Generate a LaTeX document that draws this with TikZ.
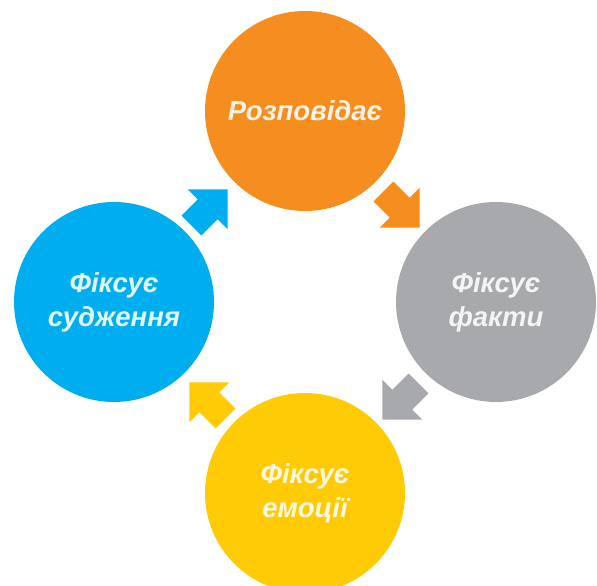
\documentclass[tikz,border=0pt]{standalone}
\usepackage{fontspec}
\setmainfont{Liberation Sans}
\usetikzlibrary{calc}
\definecolor{orangeC}{HTML}{F68E1F}
\definecolor{grayC}{HTML}{A7A9AC}
\definecolor{yellowC}{HTML}{FFCB05}
\definecolor{blueC}{HTML}{00AEEF}
\tikzset{
  circ/.style={circle, minimum size=200pt, inner sep=0pt, align=center,
    text=white, text opacity=0.88,
    font=\fontsize{27.5}{34}\selectfont\bfseries\itshape},
  blockarrow/.pic={\fill (-25.5,-14) -- (-2.5,-14) -- (-2.5,-28) -- (25.5,0) -- (-2.5,28) -- (-2.5,14) -- (-25.5,14) -- cycle;}
}
\begin{document}
\begin{tikzpicture}[x=1pt,y=1pt]
\clip (0,0) rectangle (597,586);
\node[circ, fill=orangeC] (o) at (305,475) {Розповідає};
\node[circ, fill=grayC] (g) at (496,284) {Фіксує\\факти};
\node[circ, fill=yellowC] (y) at (305,93) {Фіксує\\емоції};
\node[circ, fill=blueC] (b) at (114,284) {Фіксує\\судження};
\path ($(o)!0.5!(g)+(1,-3)$) pic[orangeC, rotate=-45] {blockarrow};
\path ($(g)!0.5!(y)+(0,-4)$) pic[grayC, rotate=-135] {blockarrow};
\path ($(y)!0.5!(b)+(-2,-3)$) pic[yellowC, rotate=135] {blockarrow};
\path ($(b)!0.5!(o)+(0,-1)$) pic[blueC, rotate=45] {blockarrow};
\end{tikzpicture}
\end{document}
